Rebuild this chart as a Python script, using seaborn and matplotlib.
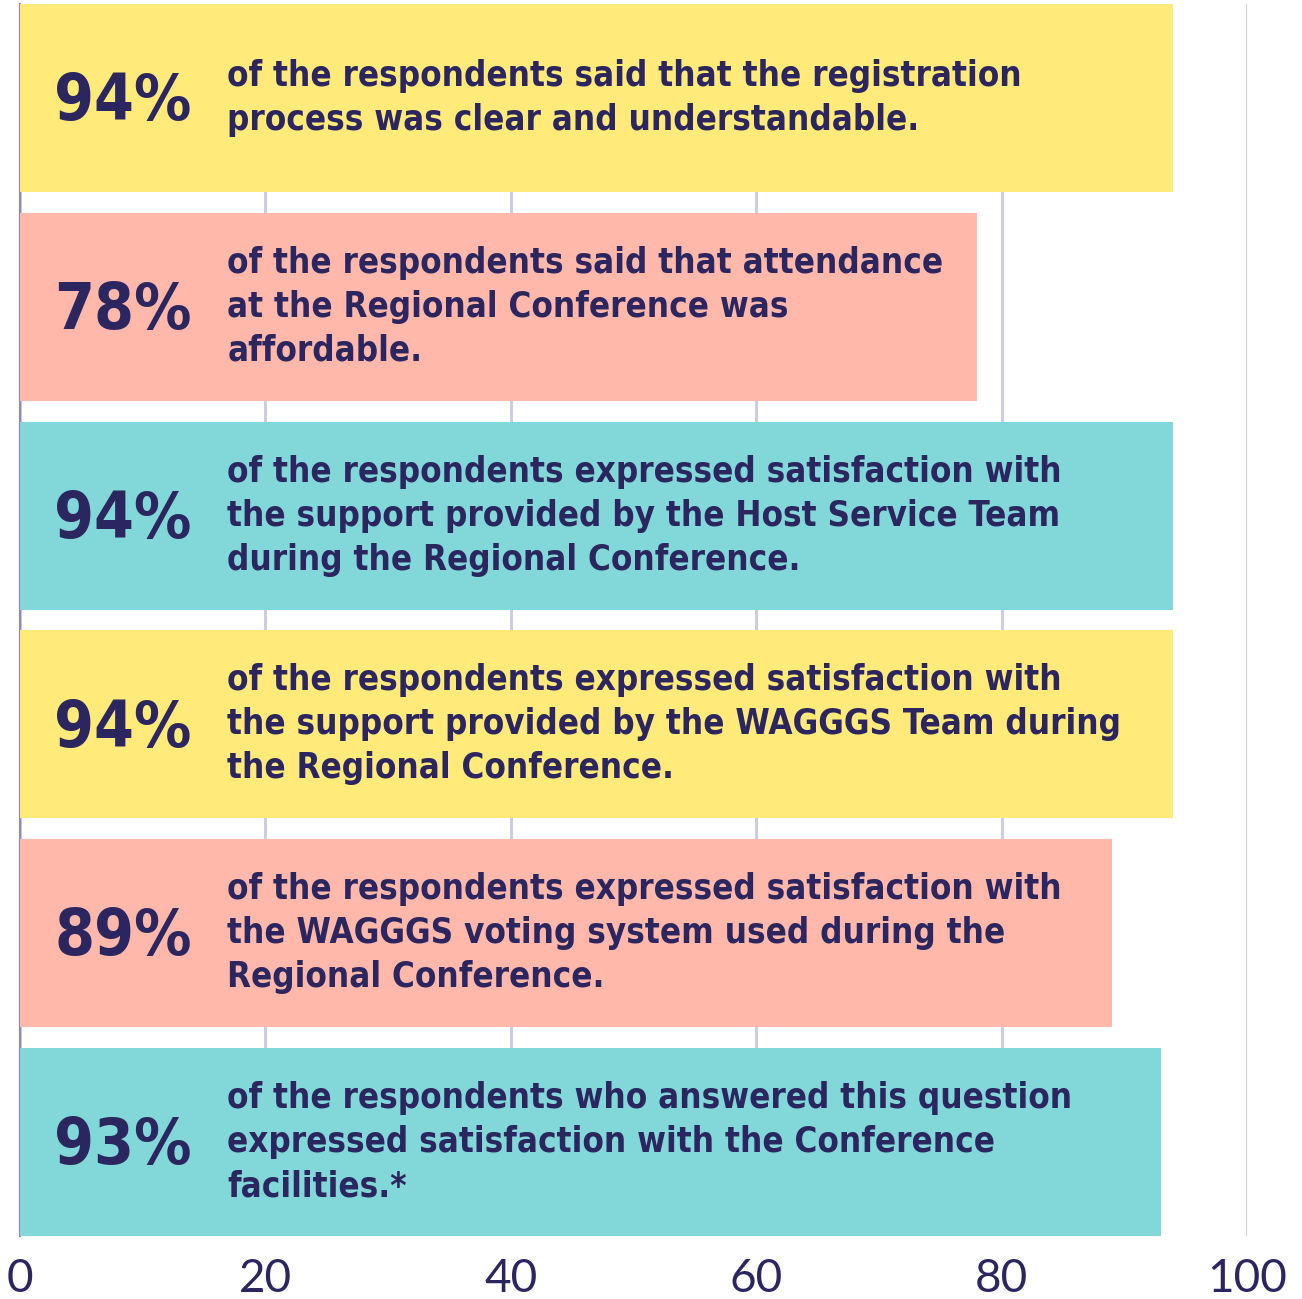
import matplotlib
matplotlib.use("Agg")
import matplotlib.pyplot as plt
import seaborn as sns
import pandas as pd

# ---- data ----
categories = ["Registration", "Affordability", "Host Service Team",
              "WAGGGS Team", "Voting system", "Facilities"]
values = [94, 78, 94, 94, 89, 93]
pct_labels = ["94%", "78%", "94%", "94%", "89%", "93%"]
descriptions = [
    "of the respondents said that the registration\nprocess was clear and understandable.",
    "of the respondents said that attendance\nat the Regional Conference was\naffordable.",
    "of the respondents expressed satisfaction with\nthe support provided by the Host Service Team\nduring the Regional Conference.",
    "of the respondents expressed satisfaction with\nthe support provided by the WAGGGS Team during\nthe Regional Conference.",
    "of the respondents expressed satisfaction with\nthe WAGGGS voting system used during the\nRegional Conference.",
    "of the respondents who answered this question\nexpressed satisfaction with the Conference\nfacilities.*",
]
tick_values = [0, 20, 40, 60, 80, 100]

bar_colors = ["#FFEA7A", "#FFB8AA", "#82D8D8", "#FFEA7A", "#FFB8AA", "#82D8D8"]
text_color = "#2B2660"

df = pd.DataFrame({"category": categories, "value": values})

sns.set_theme(style="white")
fig = plt.figure(figsize=(13.02, 12.99), dpi=100)
ax = fig.add_axes([20 / 1302, 63 / 1299, 1227 / 1302, 1232 / 1299])

sns.barplot(data=df, y="category", x="value", hue="category",
            palette=bar_colors, legend=False, width=0.9, ax=ax,
            saturation=1, zorder=3, linewidth=0)

ax.set_xlim(0, 100)
ax.set_ylim(5.45, -0.45)
ax.set_xticks(tick_values)
ax.set_xticklabels([str(t) for t in tick_values], fontsize=33,
                   family="Lato", color=text_color)
ax.tick_params(axis="x", length=0, pad=16)
ax.set_yticks([])
ax.set_xlabel("")
ax.set_ylabel("")

ax.xaxis.grid(True, color="#CFCCE0", linewidth=2.2, zorder=0)
ax.set_axisbelow(True)
for s in ["top", "right", "bottom"]:
    ax.spines[s].set_visible(False)
ax.spines["left"].set_color("#8F8BB5")
ax.spines["left"].set_linewidth(1.6)

for i, (p, d) in enumerate(zip(pct_labels, descriptions)):
    ax.text(2.8, i + 0.02, p, ha="left", va="center", fontsize=46,
            fontweight="bold", fontstretch="condensed", family="DejaVu Sans",
            color=text_color, zorder=5)
    ax.text(16.9, i, d, ha="left", va="center", fontsize=25,
            fontweight="bold", fontstretch="condensed", family="DejaVu Sans",
            color=text_color, linespacing=1.37, zorder=5)

fig.savefig("out.png", dpi=100)
